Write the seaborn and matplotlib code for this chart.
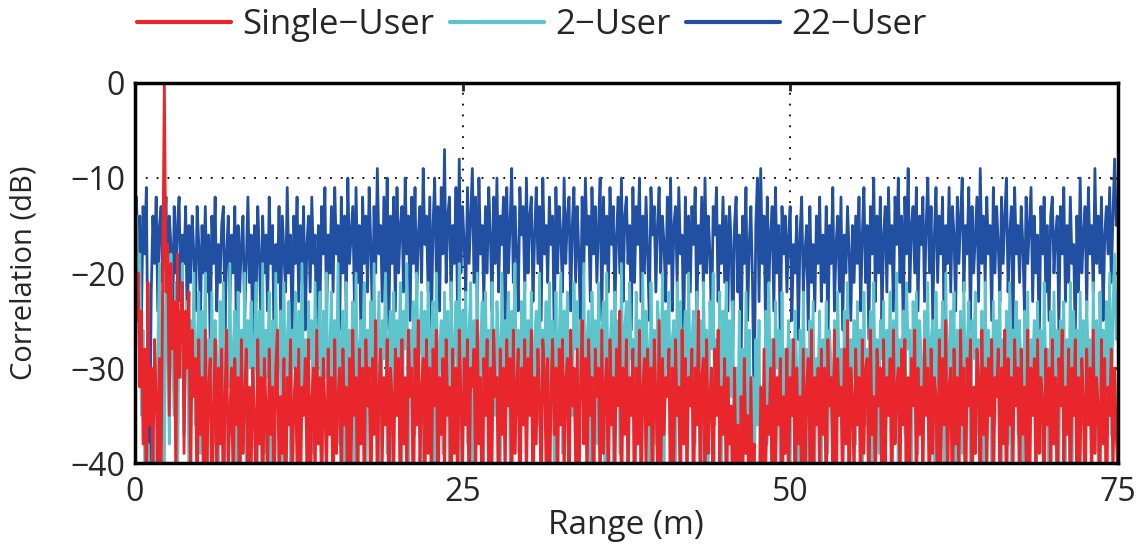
import numpy as np
import pandas as pd
import matplotlib
matplotlib.use("Agg")
import matplotlib.pyplot as plt
import seaborn as sns

# Correlation profiles (dB), sampled every 0.125 m from 0 to 75 m
user22_db = [
    -15, -12, -20, -14, -25, -13, -18, -11, -30, -40, -22, -14, -19, -12, -24, -15, -13, -21, -16, -12,
    -22, -14, -17, -27, -13, -20, -15, -12, -23, -16, -19, -13, -26, -15, -21, -14, -18, -24, -13, -17,
    -25, -15, -20, -13, -22, -16, -28, -14, -19, -12, -24, -17, -21, -15, -13, -26, -18, -14, -23, -16,
    -20, -13, -27, -15, -22, -17, -14, -25, -19, -12, -21, -16, -29, -15, -23, -13, -18, -26, -14, -20,
    -16, -24, -12, -19, -15, -28, -17, -21, -13, -25, -14, -18, -22, -11, -20, -16, -27, -14, -19, -12,
    -23, -15, -21, -13, -26, -17, -14, -22, -12, -19, -16, -30, -15, -24, -13, -18, -11, -25, -16, -20,
    -13, -22, -11, -18, -15, -26, -12, -20, -14, -24, -10, -19, -16, -13, -23, -11, -21, -15, -27, -12,
    -19, -14, -22, -11, -17, -25, -13, -20, -9, -18, -15, -23, -12, -21, -10, -26, -14, -19, -12, -24,
    -11, -20, -15, -13, -22, -10, -18, -14, -25, -12, -19, -11, -23, -16, -13, -21, -9, -17, -14, -22,
    -12, -26, -15, -10, -20, -13, -24, -11, -18, -7, -21, -14, -12, -23, -15, -19, -11, -25, -8, -20,
    -13, -17, -22, -11, -19, -14, -9, -21, -12, -25, -10, -18, -15, -23, -13, -20, -11, -16, -24, -12,
    -19, -10, -22, -14, -17, -12, -26, -11, -20, -15, -9, -21, -13, -18, -24, -11, -16, -13, -22, -10,
    -20, -14, -12, -23, -16, -11, -19, -13, -25, -10, -18, -15, -21, -12, -17, -14, -27, -11, -20, -13,
    -16, -22, -10, -19, -14, -12, -24, -15, -11, -21, -13, -18, -26, -12, -20, -10, -17, -14, -23, -11,
    -18, -13, -21, -15, -10, -25, -12, -19, -14, -22, -11, -17, -13, -24, -16, -12, -20, -10, -23, -14,
    -12, -19, -15, -26, -11, -21, -13, -17, -10, -23, -14, -20, -12, -18, -25, -11, -16, -13, -22, -15,
    -11, -20, -14, -17, -23, -12, -19, -10, -24, -15, -13, -21, -11, -18, -16, -27, -12, -20, -14, -22,
    -13, -17, -11, -25, -15, -19, -12, -22, -10, -20, -14, -18, -26, -13, -16, -11, -23, -15, -19, -12,
    -21, -14, -24, -13, -17, -28, -15, -12, -22, -16, -30, -14, -19, -11, -25, -17, -13, -21, -35, -15,
    -10, -23, -9, -19, -14, -26, -12, -21, -16, -13, -24, -11, -20, -15, -28, -13, -18, -14, -22, -16,
    -13, -25, -17, -20, -14, -27, -16, -12, -22, -18, -15, -26, -13, -21, -17, -24, -14, -19, -12, -23,
    -16, -21, -13, -28, -15, -19, -11, -24, -17, -14, -22, -12, -26, -16, -20, -13, -18, -25, -15, -21,
    -14, -19, -12, -24, -16, -11, -21, -15, -27, -13, -18, -10, -23, -14, -20, -12, -25, -16, -13, -22,
    -11, -19, -15, -24, -12, -17, -10, -21, -14, -26, -12, -18, -9, -22, -15, -13, -20, -11, -24, -14,
    -17, -12, -23, -15, -10, -20, -13, -25, -16, -11, -21, -14, -18, -12, -27, -15, -19, -11, -22, -13,
    -16, -24, -12, -19, -14, -10, -22, -15, -18, -11, -26, -13, -20, -16, -12, -23, -9, -19, -14, -21,
    -12, -18, -15, -25, -11, -20, -13, -17, -23, -12, -19, -14, -10, -22, -16, -13, -26, -11, -18, -15,
    -21, -13, -17, -24, -12, -19, -15, -11, -23, -14, -20, -16, -28, -13, -18, -12, -22, -15, -25, -14,
    -12, -20, -16, -14, -26, -13, -18, -11, -23, -15, -21, -12, -19, -17, -27, -14, -22, -10, -20, -16,
    -13, -24, -11, -18, -15, -22, -9, -19, -14, -20, -12, -25, -16, -13, -18, -11, -21, -14, -8, -15,
    -12,
]

user2_db = [
    -30, -14, -22, -18, -35, -26, -40, -45, -38, -42, -47, -36, -44, -40, -28, -19, -33, -22, -41, -20,
    -26, -38, -18, -29, -35, -21, -44, -24, -31, -19, -37, -27, -23, -42, -25, -33, -20, -36, -28, -22,
    -39, -24, -31, -20, -43, -27, -34, -22, -38, -25, -29, -45, -23, -35, -21, -40, -26, -32, -19, -37,
    -28, -24, -41, -22, -33, -26, -38, -20, -44, -25, -30, -23, -36, -27, -21, -42, -24, -34, -19, -39,
    -26, -31, -22, -45, -25, -37, -20, -33, -28, -24, -40, -21, -35, -27, -23, -43, -26, -30, -22, -38,
    -24, -36, -19, -32, -27, -42, -23, -29, -25, -39, -21, -34, -26, -22, -44, -24, -31, -20, -37, -28,
    -22, -40, -25, -33, -19, -38, -27, -24, -43, -21, -35, -26, -30, -23, -41, -20, -36, -28, -25, -33,
    -21, -44, -26, -31, -23, -37, -19, -34, -28, -22, -42, -25, -29, -20, -39, -27, -24, -45, -22, -35,
    -25, -32, -21, -40, -24, -28, -19, -43, -26, -33, -23, -37, -20, -30, -27, -22, -41, -24, -35, -21,
    -38, -26, -23, -44, -20, -34, -28, -25, -39, -22, -31, -24, -45, -21, -36, -27, -23, -33, -19, -42,
    -24, -30, -22, -38, -26, -21, -43, -25, -34, -20, -36, -28, -23, -41, -22, -32, -26, -39, -21, -29,
    -35, -23, -27, -44, -20, -37, -25, -31, -22, -40, -24, -28, -19, -35, -26, -42, -23, -30, -21, -38,
    -25, -33, -22, -45, -27, -24, -36, -20, -41, -26, -29, -23, -38, -21, -32, -25, -43, -22, -34, -27,
    -20, -39, -24, -30, -22, -44, -26, -35, -21, -28, -23, -40, -25, -33, -19, -37, -27, -24, -42, -22,
    -31, -25, -38, -21, -34, -26, -23, -45, -20, -36, -28, -24, -41, -22, -30, -25, -39, -19, -33, -26,
    -23, -43, -21, -29, -27, -37, -22, -32, -25, -40, -20, -35, -24, -28, -44, -21, -31, -26, -38, -23,
    -26, -34, -20, -42, -24, -30, -22, -39, -27, -25, -45, -21, -33, -23, -37, -28, -24, -41, -20, -32,
    -27, -24, -38, -22, -35, -25, -43, -21, -30, -26, -40, -23, -28, -20, -36, -27, -33, -22, -44, -24,
    -29, -21, -41, -25, -33, -23, -46, -30, -37, -24, -44, -28, -39, -22, -35, -26, -40, -31, -45, -27,
    -36, -25, -48, -33, -42, -24, -38, -21, -34, -27, -41, -23, -30, -26, -44, -22, -37, -28, -32, -25,
    -41, -27, -35, -24, -30, -43, -26, -38, -22, -33, -28, -45, -25, -36, -23, -40, -29, -31, -24, -42,
    -27, -34, -23, -39, -26, -30, -44, -25, -37, -22, -32, -28, -41, -24, -35, -21, -43, -27, -31, -25,
    -38, -23, -33, -26, -46, -22, -36, -28, -30, -24, -42, -21, -34, -27, -39, -25, -29, -23, -44, -26,
    -32, -22, -40, -25, -35, -20, -43, -27, -31, -24, -37, -21, -28, -26, -45, -23, -34, -22, -39, -25,
    -29, -42, -24, -33, -21, -38, -27, -25, -44, -22, -35, -26, -30, -23, -41, -20, -36, -28, -24, -33,
    -22, -45, -26, -31, -24, -39, -21, -34, -28, -23, -43, -25, -29, -22, -37, -27, -32, -24, -46, -21,
    -35, -26, -28, -41, -23, -36, -25, -30, -22, -44, -27, -33, -24, -38, -21, -42, -26, -29, -23, -37,
    -25, -32, -43, -24, -36, -22, -40, -27, -30, -25, -45, -23, -34, -26, -39, -21, -31, -28, -47, -24,
    -37, -22, -33, -26, -42, -25, -29, -23, -40, -27, -35, -21, -44, -24, -31, -26, -38, -22, -36, -25,
    -43, -23, -30, -27, -38, -21, -34, -25, -41, -22, -29, -26, -36, -23, -32, -20, -37, -24, -18, -27,
    -22,
]

single_db = [
    -6, -25, -20, -32, -24, -38, -28, -45, -21, -36, -30, -42, -27, -33, -40, -29, -44, -20, 0, -22,
    -17, -35, -19, -28, -23, -42, -18, -31, -25, -21, -39, -24, -30, -22, -44, -26, -33, -29, -46, -27,
    -37, -31, -45, -26, -40, -32, -29, -48, -34, -27, -43, -30, -38, -28, -47, -33, -26, -41, -35, -30,
    -44, -29, -36, -31, -49, -27, -39, -33, -28, -46, -32, -41, -30, -35, -45, -27, -38, -31, -48, -29,
    -34, -42, -28, -37, -32, -47, -30, -26, -43, -33, -39, -29, -50, -31, -36, -27, -44, -34, -30, -41,
    -28, -46, -32, -35, -29, -40, -27, -48, -33, -30, -43, -26, -38, -31, -45, -29, -34, -42, -28, -37,
    -31, -47, -27, -39, -33, -30, -44, -28, -36, -32, -49, -29, -41, -26, -35, -31, -46, -28, -38, -30,
    -43, -27, -34, -30, -48, -29, -37, -25, -45, -32, -28, -40, -31, -36, -27, -47, -30, -33, -42, -28,
    -35, -29, -46, -27, -38, -31, -43, -26, -33, -30, -49, -28, -36, -25, -41, -32, -29, -45, -27, -39,
    -30, -44, -28, -34, -26, -47, -31, -37, -29, -42, -27, -35, -32, -48, -28, -39, -30, -45, -26, -33,
    -41, -29, -36, -27, -46, -30, -32, -28, -43, -25, -38, -31, -49, -29, -35, -27, -44, -30, -40, -26,
    -33, -31, -47, -28, -37, -30, -42, -27, -34, -29, -45, -26, -39, -32, -28, -48, -30, -36, -27, -43,
    -29, -35, -26, -46, -31, -38, -28, -33, -44, -27, -30, -41, -29, -49, -32, -27, -37, -30, -45, -28,
    -36, -27, -42, -31, -29, -47, -26, -34, -30, -40, -28, -45, -32, -25, -38, -29, -43, -27, -35, -31,
    -48, -28, -33, -30, -44, -26, -39, -32, -29, -46, -27, -36, -31, -42, -28, -34, -24, -47, -30, -37,
    -27, -43, -31, -35, -28, -49, -30, -38, -26, -45, -32, -29, -41, -28, -36, -30, -47, -27, -33, -40,
    -25, -44, -29, -37, -31, -33, -28, -48, -30, -40, -27, -35, -32, -46, -26, -38, -29, -42, -31, -34,
    -28, -47, -30, -36, -24, -43, -31, -29, -45, -27, -39, -33, -30, -49, -28, -35, -26, -41, -32, -37,
    -29, -45, -31, -38, -34, -48, -30, -42, -36, -50, -33, -44, -29, -39, -35, -47, -31, -43, -38, -52,
    -40, -48, -32, -45, -28, -41, -34, -37, -30, -46, -27, -43, -31, -36, -29, -49, -33, -39, -28, -44,
    -31, -35, -27, -47, -30, -38, -33, -42, -28, -45, -32, -29, -40, -26, -48, -31, -36, -30, -43, -28,
    -37, -30, -46, -27, -34, -31, -41, -26, -49, -29, -35, -32, -44, -28, -38, -25, -47, -30, -33, -42,
    -28, -36, -31, -45, -27, -39, -30, -29, -48, -26, -37, -33, -43, -28, -34, -30, -46, -27, -40, -31,
    -35, -29, -47, -26, -38, -32, -30, -44, -28, -36, -27, -49, -31, -41, -29, -34, -26, -45, -30, -37,
    -32, -42, -27, -35, -30, -48, -28, -39, -31, -33, -46, -27, -40, -29, -36, -25, -44, -32, -30, -47,
    -28, -38, -31, -43, -26, -36, -30, -49, -29, -34, -27, -45, -32, -39, -28, -31, -47, -26, -37, -30,
    -42, -29, -35, -27, -46, -31, -33, -28, -44, -30, -38, -26, -48, -29, -36, -31, -41, -27, -34, -30,
    -45, -28, -37, -32, -40, -26, -49, -30, -35, -29, -43, -27, -39, -31, -33, -47, -28, -36, -30, -44,
    -27, -38, -31, -46, -29, -34, -26, -42, -32, -37, -28, -48, -30, -35, -27, -45, -31, -40, -29, -33,
    -47, -28, -36, -30, -43, -26, -39, -31, -34, -45, -27, -38, -29, -49, -32, -35, -28, -42, -30, -37,
    -41,
]

series_names = ["Single\u2212User", "2\u2212User", "22\u2212User"]
series_values = [single_db, user2_db, user22_db]
series_colors = ["#E8262B", "#5CC4CA", "#2150A2"]

x_ticks = [0, 25, 50, 75]
y_ticks = [-40, -30, -20, -10, 0]

frames = []
for name, vals in zip(series_names, series_values):
    rng_m = np.linspace(0, 75, len(vals))
    frames.append(pd.DataFrame({"Range": rng_m, "Correlation": vals, "Series": name}))
df = pd.concat(frames, ignore_index=True)

sns.set_style("white")
plt.rcParams["font.family"] = ["Open Sans", "DejaVu Sans"]

fig = plt.figure(figsize=(11.43, 5.46), dpi=100)
ax = fig.add_axes([0.118, 0.152, 0.860, 0.696])

# Draw the 22-user trace first so the sparser traces sit on top
handles = {}
for name, color in zip(series_names[::-1], series_colors[::-1]):
    sub = df[df["Series"] == name]
    sns.lineplot(data=sub, x="Range", y="Correlation", ax=ax, color=color,
                 linewidth=2.0, estimator=None, sort=False, label=name, legend=False)
    handles[name] = ax.lines[-1]

ax.set_xlim(0, 75)
ax.set_ylim(-40, 0)
ax.set_xticks(x_ticks)
ax.set_yticks(y_ticks)
ax.set_yticklabels([f"\u2212{abs(v)}" if v < 0 else str(v) for v in y_ticks])
ax.grid(True, color="black", linestyle=(0, (1, 5)), linewidth=1.3)
ax.set_axisbelow(True)
for sp in ax.spines.values():
    sp.set_linewidth(2.5)
    sp.set_color("black")
    sp.set_zorder(5)
ax.tick_params(axis="both", direction="in", length=6, width=2, labelsize=23,
               top=True, right=True)
ax.tick_params(axis="x", pad=9)
ax.tick_params(axis="y", pad=7)
ax.set_xlabel("Range (m)", fontsize=24, va="top")
ax.xaxis.set_label_coords(0.5, -0.122)
ax.set_ylabel("Correlation (dB)", fontsize=21)
ax.yaxis.set_label_coords(-0.098, 0.5)

leg = fig.legend([handles[n] for n in series_names], series_names, loc="center left",
                 bbox_to_anchor=(0.12, 0.954), ncol=3, frameon=False, fontsize=25,
                 handlelength=2.7, handletextpad=0.33, columnspacing=0.45,
                 borderpad=0, borderaxespad=0)
for line in leg.get_lines():
    line.set_linewidth(3)

fig.savefig("out.png", dpi=100)
